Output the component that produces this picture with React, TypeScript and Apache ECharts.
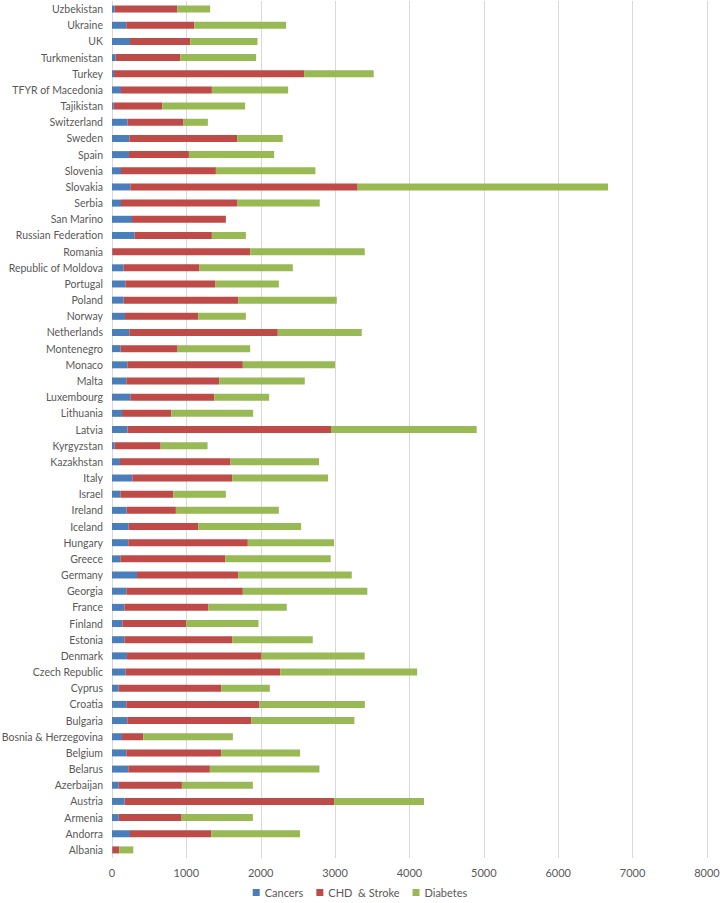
import React, { useEffect, useRef } from "react";
import * as echarts from "echarts";

const countries = [
  "Albania", "Andorra", "Armenia", "Austria", "Azerbaijan", "Belarus", "Belgium",
  "Bosnia & Herzegovina", "Bulgaria", "Croatia", "Cyprus", "Czech Republic", "Denmark",
  "Estonia", "Finland", "France", "Georgia", "Germany", "Greece", "Hungary", "Iceland",
  "Ireland", "Israel", "Italy", "Kazakhstan", "Kyrgyzstan", "Latvia", "Lithuania",
  "Luxembourg", "Malta", "Monaco", "Montenegro", "Netherlands", "Norway", "Poland",
  "Portugal", "Republic of Moldova", "Romania", "Russian Federation", "San Marino",
  "Serbia", "Slovakia", "Slovenia", "Spain", "Sweden", "Switzerland", "Tajikistan",
  "TFYR of Macedonia", "Turkey", "Turkmenistan", "UK", "Ukraine", "Uzbekistan",
];

const cancers = [
  5, 242, 90, 170, 90, 219, 192, 134, 206, 192, 90, 179, 201, 166, 139, 166, 192, 336,
  112, 219, 224, 197, 112, 273, 107, 36, 210, 134, 246, 192, 206, 116, 233, 175, 157,
  179, 157, 5, 304, 269, 121, 246, 121, 228, 233, 210, 22, 121, 27, 49, 242, 192, 36,
];

const chdStroke = [
  93, 1092, 846, 2816, 850, 1097, 1276, 287, 1665, 1791, 1378, 2082, 1809, 1454, 859,
  1128, 1567, 1361, 1410, 1607, 935, 662, 712, 1343, 1487, 618, 2735, 663, 1128, 1249,
  1553, 766, 1996, 984, 1540, 1213, 1020, 1853, 1039, 1262, 1567, 3057, 1276, 806, 1450,
  752, 654, 1222, 2556, 869, 810, 914, 841,
];

const diabetes = [
  188, 1195, 958, 1209, 954, 1473, 1061, 1204, 1388, 1417, 654, 1842, 1388, 1079, 972,
  1056, 1674, 1527, 1418, 1160, 1384, 1384, 707, 1289, 1190, 631, 1958, 1101, 739, 1151,
  1240, 976, 1129, 641, 1325, 851, 1254, 1540, 457, 0, 1105, 3367, 1338, 1146, 613, 327,
  1114, 1025, 936, 1020, 904, 1235, 443,
];

const xTicks = { min: 0, max: 8000, interval: 1000 };

export default function App() {
  const ref = useRef<HTMLDivElement>(null);
  useEffect(() => {
    if (!ref.current) return;
    const chart = echarts.init(ref.current, null, { renderer: "svg" });
    const font = "Lato";
    const textColor = "#595959";
    const mk = (name: string, data: number[], color: string) => ({
      name,
      type: "bar",
      stack: "total",
      data,
      barWidth: 7,
      itemStyle: { color },
    });
    chart.setOption({
      animation: false,
      textStyle: { fontFamily: font },
      grid: {
        left: 112,
        right: 13,
        top: 1,
        bottom: 45,
        containLabel: false,
        outerBoundsMode: "none",
      },
      legend: {
        bottom: 0,
        left: "center",
        icon: "rect",
        itemWidth: 7,
        itemHeight: 7,
        itemGap: 13,
        textStyle: { fontFamily: font, fontSize: 11, color: textColor },
        data: ["Cancers", "CHD  & Stroke", "Diabetes"],
      },
      xAxis: {
        type: "value",
        min: xTicks.min,
        max: xTicks.max,
        interval: xTicks.interval,
        axisLine: { show: false },
        axisTick: { show: false },
        splitLine: { show: true, lineStyle: { color: "#d9d9d9", width: 1 } },
        axisLabel: {
          fontFamily: font,
          fontSize: 11,
          color: textColor,
          margin: 9,
          formatter: (v: number) => String(v),
        },
      },
      yAxis: {
        type: "category",
        data: countries,
        axisLine: { show: false },
        axisTick: { show: false },
        axisLabel: { fontFamily: font, fontSize: 10.5, color: textColor, margin: 9, interval: 0 },
      },
      series: [
        mk("Cancers", cancers, "#4A7EBB"),
        mk("CHD  & Stroke", chdStroke, "#BE4B48"),
        mk("Diabetes", diabetes, "#98B954"),
      ],
    });
    return () => chart.dispose();
  }, []);
  return (
    <div
      ref={ref}
      style={{ position: "fixed", left: 0, top: 0, width: 720, height: 903, background: "#fff" }}
    />
  );
}
